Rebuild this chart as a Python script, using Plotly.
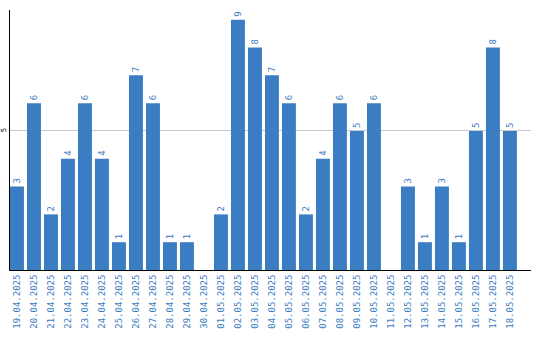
import plotly.graph_objects as go

dates = ["19.04.2025", "20.04.2025", "21.04.2025", "22.04.2025", "23.04.2025", "24.04.2025",
         "25.04.2025", "26.04.2025", "27.04.2025", "28.04.2025", "29.04.2025", "30.04.2025",
         "01.05.2025", "02.05.2025", "03.05.2025", "04.05.2025", "05.05.2025", "06.05.2025",
         "07.05.2025", "08.05.2025", "09.05.2025", "10.05.2025", "11.05.2025", "12.05.2025",
         "13.05.2025", "14.05.2025", "15.05.2025", "16.05.2025", "17.05.2025", "18.05.2025"]
values = [3, 6, 2, 4, 6, 4, 1, 7, 6, 1, 1, 0, 2, 9, 8, 7, 6, 2, 4, 6, 5, 6, 0, 3, 1, 3, 1, 5, 8, 5]

blue = "#3a7dc2"
labels = [str(v) if v else "" for v in values]

fig = go.Figure(go.Bar(
    x=dates, y=values, width=0.82,
    marker=dict(color=blue, line=dict(width=0)),
    text=labels, textposition="outside", textangle=-90,
    textfont=dict(family="DejaVu Sans Mono", size=9, color=blue),
    cliponaxis=False,
))
fig.update_layout(
    width=540, height=340,
    margin=dict(l=10, r=9, t=10, b=70, autoexpand=False),
    paper_bgcolor="white", plot_bgcolor="white",
    showlegend=False,
    xaxis=dict(type="category", range=[-0.41, 30.24], showgrid=False,
               showline=True, linecolor="black", linewidth=1,
               tickangle=-90, ticks="", automargin=False,
               tickfont=dict(family="DejaVu Sans Mono", size=9, color=blue)),
    yaxis=dict(range=[0, 9.35], tickvals=[5], ticktext=["5"], tickangle=-90,
               showgrid=True, gridcolor="#c8c8c8", gridwidth=1,
               showline=True, linecolor="black", linewidth=1,
               zeroline=False, ticks="", ticklabelstandoff=0, automargin=False,
               tickfont=dict(family="DejaVu Sans", size=7, color="black")),
)
fig.write_html("out.html")
